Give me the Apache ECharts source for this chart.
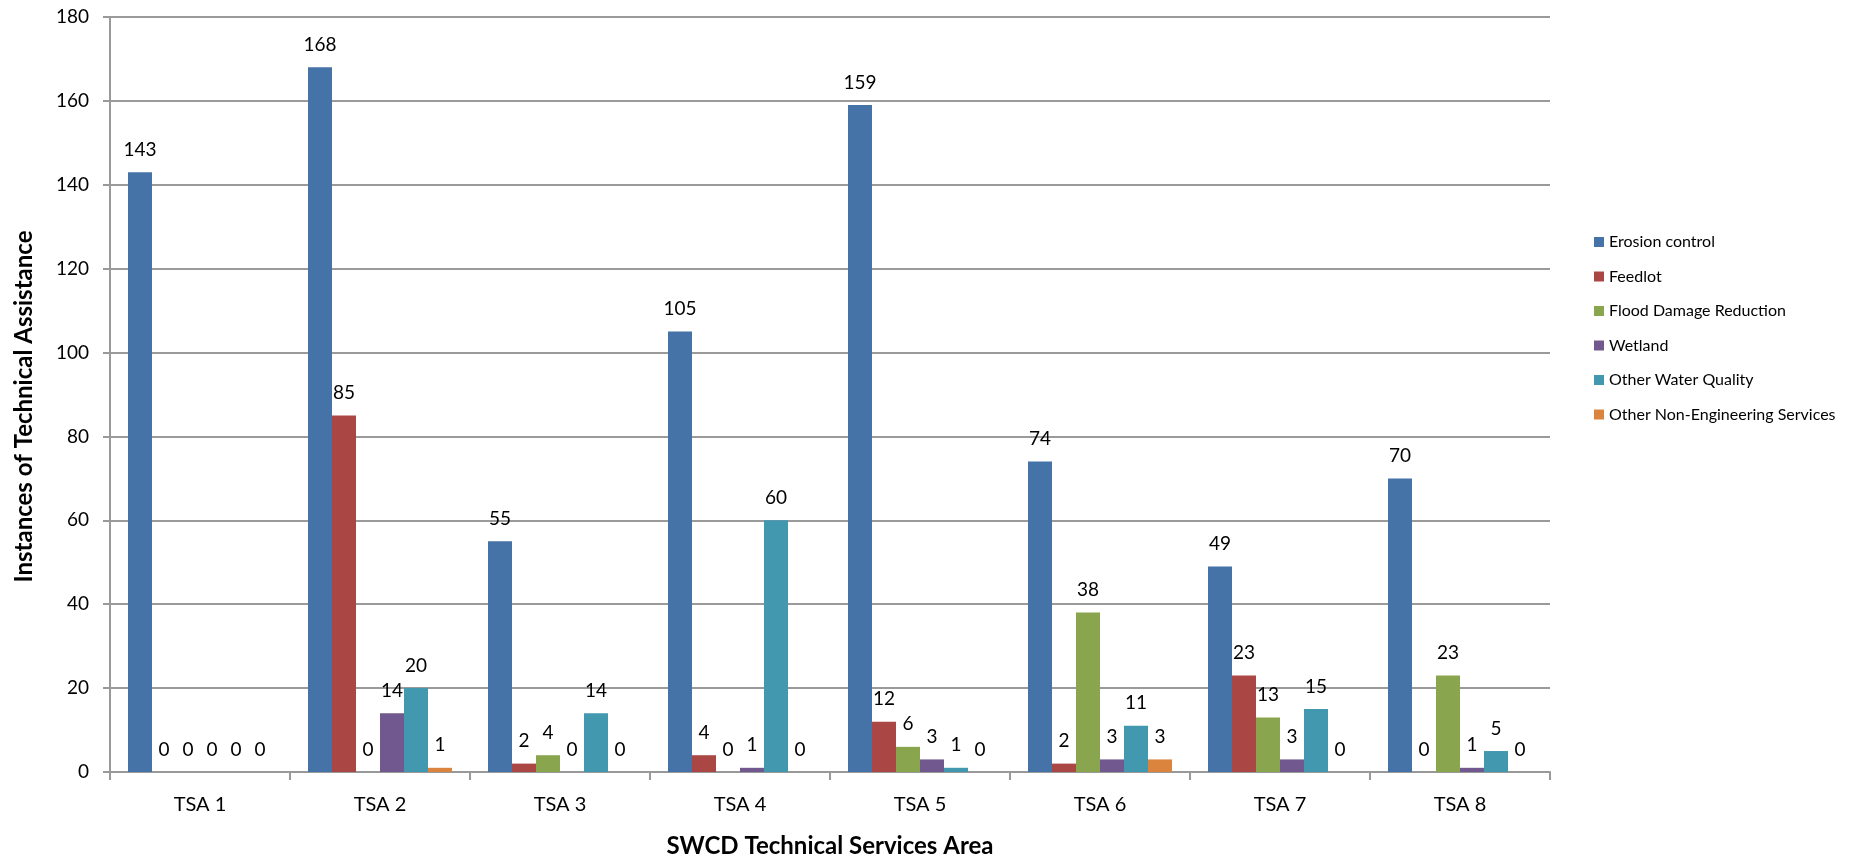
<!DOCTYPE html>
<html>
<head>
<meta charset="utf-8">
<script src="https://cdn.jsdelivr.net/npm/echarts@6/dist/echarts.min.js"></script>
<style>
html,body{margin:0;padding:0;background:#fff;}
#c{width:1858px;height:863px;}
</style>
</head>
<body>
<div id="c"></div>
<script>
var categories = ['TSA 1','TSA 2','TSA 3','TSA 4','TSA 5','TSA 6','TSA 7','TSA 8'];
var erosionControl = [143,168,55,105,159,74,49,70];
var feedlot = [0,85,2,4,12,2,23,0];
var floodDamageReduction = [0,0,4,0,6,38,13,23];
var wetland = [0,14,0,1,3,3,3,1];
var otherWaterQuality = [0,20,14,60,1,11,15,5];
var otherNonEngineering = [0,1,0,0,0,3,0,0];
var yTicks = {min:0, max:180, interval:20};

var seriesDefs = [
  {name:'Erosion control', data:erosionControl, color:'#4572A7'},
  {name:'Feedlot', data:feedlot, color:'#AA4643'},
  {name:'Flood Damage Reduction', data:floodDamageReduction, color:'#89A54E'},
  {name:'Wetland', data:wetland, color:'#71588F'},
  {name:'Other Water Quality', data:otherWaterQuality, color:'#4198AF'},
  {name:'Other Non-Engineering Services', data:otherNonEngineering, color:'#DB843D'}
];

var FONT = 'Lato';
var chart = echarts.init(document.getElementById('c'));
chart.setOption({
  animation:false,
  textStyle:{fontFamily:FONT},
  legend:{
    orient:'vertical', left:1589, top:229,
    itemWidth:10, itemHeight:10, itemGap:18.5,
    icon:'rect',
    textStyle:{fontFamily:FONT, fontSize:16, color:'#000'},
    data:seriesDefs.map(function(s){return s.name;})
  },
  grid:{left:110, right:308, top:17, bottom:82},
  xAxis:{
    type:'category', data:categories,
    name:'SWCD Technical Services Area', nameLocation:'middle', nameGap:62,
    nameTextStyle:{fontFamily:FONT, fontSize:24, fontWeight:'bold', color:'#000'},
    axisLine:{lineStyle:{color:'#999', width:2}},
    axisTick:{show:true, length:8, lineStyle:{color:'#999', width:2}},
    axisLabel:{fontFamily:FONT, fontSize:20, color:'#000', margin:23}
  },
  yAxis:{
    type:'value', min:yTicks.min, max:yTicks.max, interval:yTicks.interval,
    name:'Instances of Technical Assistance', nameLocation:'middle', nameGap:74,
    nameTextStyle:{fontFamily:FONT, fontSize:24, fontWeight:'bold', color:'#000', padding:[0,24,0,0]},
    axisLine:{show:true, lineStyle:{color:'#999', width:2}},
    axisTick:{show:true, length:7, lineStyle:{color:'#999', width:2}},
    axisLabel:{fontFamily:FONT, fontSize:19, color:'#000', margin:21},
    splitLine:{lineStyle:{color:'#9a9a9a', width:2}}
  },
  series: seriesDefs.map(function(s){
    return {
      name:s.name, type:'bar', data:s.data,
      barGap:'0%', barCategoryGap:'20%',
      itemStyle:{color:s.color},
      label:{show:true, position:'top', distance:13, fontFamily:FONT, fontSize:19, color:'#000'}
    };
  })
});
</script>
</body>
</html>
